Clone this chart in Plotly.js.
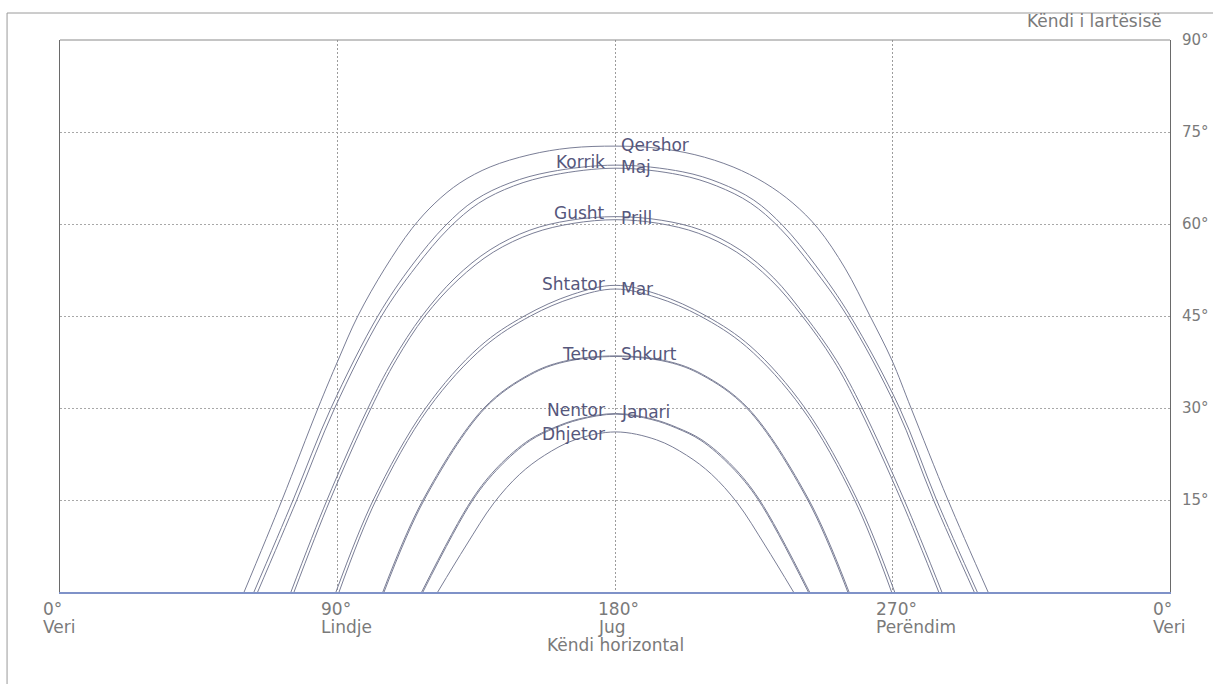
<!DOCTYPE html>
<html>
<head>
<meta charset="utf-8">
<script src="https://cdn.plot.ly/plotly-3.0.1.min.js"></script>
<style>
html,body{margin:0;padding:0;background:#fff;}
#chart{width:1213px;height:684px;}
</style>
</head>
<body>
<div id="chart"></div>
<script>
// Azimuth (°) and elevation (°) readings for each month's sun path
const months = ["Qershor","Korrik","Maj","Gusht","Prill","Shtator","Mar","Tetor","Shkurt","Nentor","Janari","Dhjetor"];

const azQershor = [59.7, 72.0, 83.7, 90.2, 96.6, 105.4, 114.2, 121.6, 129.7, 139.5, 152.4, 165.4, 180.3, 193.0, 205.9, 218.3, 228.6, 237.7, 245.8, 254.6, 262.7, 269.8, 276.0, 288.0, 301.0];
const elQershor = [0, 15, 30, 37.8, 45, 52.8, 59.3, 63.4, 66.7, 69.3, 71.3, 72.4, 72.7, 72.4, 71.3, 69.3, 66.7, 63.4, 59.3, 52.8, 45, 37.8, 30, 15, 0];

const azKorrik = [62.9, 75.6, 87.9, 103.1, 114.2, 124.9, 134.6, 145.9, 158.9, 180.3, 202.0, 214.0, 225.0, 234.5, 245.0, 256.3, 272.3, 284.3, 297.5];
const elKorrik = [0, 15, 30, 45, 53.3, 59.7, 63.9, 66.7, 68.5, 69.6, 68.5, 66.7, 63.9, 59.7, 53.3, 45, 30, 15, 0];

const azMaj = [64.1, 76.8, 89.1, 104.3, 115.4, 126.1, 135.8, 147.1, 160.1, 180.3, 201.0, 213.0, 224.0, 233.5, 244.0, 255.3, 271.3, 283.3, 296.5];
const elMaj = [0, 15, 30, 45, 53.0, 59.3, 63.4, 66.2, 68.0, 69.1, 68.0, 66.2, 63.4, 59.3, 53.0, 45, 30, 15, 0];

const azGusht = [74.9, 86.6, 99.9, 108.0, 117.4, 128.1, 139.5, 152.4, 165.4, 180.3, 195.2, 208.0, 220.5, 231.5, 241.7, 251.8, 260.2, 273.8, 286.0];
const elGusht = [0, 15, 30, 37.8, 45, 51.2, 55.8, 59.0, 60.6, 61.2, 60.6, 59.0, 55.8, 51.2, 45, 37.8, 30, 15, 0];

const azPrill = [75.9, 87.6, 100.9, 109.0, 118.4, 129.1, 140.5, 153.4, 166.4, 180.3, 194.2, 207.0, 219.5, 230.5, 240.7, 250.8, 259.2, 272.8, 285.0];
const elPrill = [0, 15, 30, 37.8, 45, 50.9, 55.4, 58.5, 60.1, 60.7, 60.1, 58.5, 55.4, 50.9, 45, 37.8, 30, 15, 0];

const azShtator = [89.5, 101.6, 118.6, 136.1, 150.6, 166.1, 180.1, 194.1, 209.6, 224.1, 241.6, 258.6, 270.7];
const elShtator = [0, 15, 30, 40, 45, 48.5, 50.0, 48.5, 45, 40, 30, 15, 0];

const azMar = [90.5, 102.5, 119.6, 137.6, 152.6, 166.6, 180.1, 193.6, 207.6, 222.6, 240.6, 257.7, 269.7];
const elMar = [0, 15, 30, 40, 45, 48.0, 49.4, 48.0, 45, 40, 30, 15, 0];

const azTetor = [104.7, 117.7, 137.5, 152.3, 163.3, 180.3, 197.3, 208.3, 223.1, 242.9, 255.9];
const elTetor = [0, 15, 30, 35.5, 37.6, 38.5, 37.6, 35.5, 30, 15, 0];

const azShkurt = [105.1, 118.1, 137.9, 152.5, 163.5, 180.3, 197.1, 208.1, 222.7, 242.5, 255.5];
const elShkurt = [0, 15, 30, 35.4, 37.5, 38.4, 37.5, 35.4, 30, 15, 0];

const azNentor = [117.3, 133.5, 142.2, 152.2, 160.2, 168.2, 180.2, 192.2, 200.2, 208.2, 218.2, 226.9, 243.1];
const elNentor = [0, 15, 20.5, 24.8, 26.8, 28.2, 29.1, 28.2, 26.8, 24.8, 20.5, 15, 0];

const azJanari = [117.7, 133.9, 142.6, 152.5, 160.4, 168.4, 180.2, 192.0, 200.0, 207.9, 217.8, 226.5, 242.7];
const elJanari = [0, 15, 20.4, 24.7, 26.7, 28.1, 29.0, 28.1, 26.7, 24.7, 20.4, 15, 0];

const azDhjetor = [122.5, 131.6, 140.7, 149.1, 157.2, 166.9, 180.2, 193.5, 203.2, 211.3, 219.7, 228.8, 237.9];
const elDhjetor = [0, 7.5, 14.5, 19.2, 22.3, 24.8, 26.1, 24.8, 22.3, 19.2, 14.5, 7.5, 0];

// Tick labels
const xTickVals = [0, 90, 180, 270, 360];
const xTickDeg = ["0°", "90°", "180°", "270°", "0°"];
const xTickDir = ["Veri", "Lindje", "Jug", "Perëndim", "Veri"];
const yTickVals = [15, 30, 45, 60, 75, 90];
const yTickText = ["15°", "30°", "45°", "60°", "75°", "90°"];

// Month label placement: which side of the noon line, and elevation of the label
const labelSide = {Qershor:"right", Korrik:"left", Maj:"right", Gusht:"left", Prill:"right", Shtator:"left", Mar:"right", Tetor:"left", Shkurt:"right", Nentor:"left", Janari:"right", Dhjetor:"left"};
const labelEl = {Qershor:72.9, Korrik:70.1, Maj:69.3, Gusht:61.8, Prill:61.0, Shtator:50.2, Mar:49.4, Tetor:38.8, Shkurt:38.8, Nentor:29.7, Janari:29.3, Dhjetor:25.8};

const series = {
  Qershor:[azQershor, elQershor], Korrik:[azKorrik, elKorrik], Maj:[azMaj, elMaj],
  Gusht:[azGusht, elGusht], Prill:[azPrill, elPrill], Shtator:[azShtator, elShtator],
  Mar:[azMar, elMar], Tetor:[azTetor, elTetor], Shkurt:[azShkurt, elShkurt],
  Nentor:[azNentor, elNentor], Janari:[azJanari, elJanari], Dhjetor:[azDhjetor, elDhjetor]
};

const lineColor = "#7a7e96";
const traces = months.map(m => ({
  type: "scatter", mode: "lines", name: m,
  x: series[m][0], y: series[m][1],
  line: {color: lineColor, width: 1, shape: "spline", smoothing: 1},
  hoverinfo: "x+y+name"
}));

const FONT = "DejaVu Sans, Verdana, sans-serif";
const GREY = "#7a7a7a";
const annotations = [];
months.forEach(m => {
  const right = labelSide[m] === "right";
  annotations.push({
    x: 180, y: labelEl[m], xref: "x", yref: "y",
    text: m, showarrow: false,
    xanchor: right ? "left" : "right", yanchor: "middle",
    xshift: right ? 4 : -8,
    font: {family: FONT, size: 17, color: "#56577c"}
  });
});
xTickVals.forEach((v, i) => {
  annotations.push({
    x: v, y: 0, xref: "x", yref: "paper",
    text: xTickDeg[i], showarrow: false,
    xanchor: "left", yanchor: "middle", xshift: -19, yshift: -17,
    font: {family: FONT, size: 17, color: GREY}
  });
  annotations.push({
    x: v, y: 0, xref: "x", yref: "paper",
    text: xTickDir[i], showarrow: false,
    xanchor: "left", yanchor: "middle", xshift: -19, yshift: -35,
    font: {family: FONT, size: 17, color: GREY}
  });
});
annotations.push({
  x: 180, y: 0, xref: "x", yref: "paper", text: "Këndi horizontal", showarrow: false,
  xanchor: "center", yanchor: "middle", yshift: -53,
  font: {family: FONT, size: 17, color: GREY}
});
annotations.push({
  x: 1, y: 1, xref: "paper", yref: "paper", text: "Këndi i lartësisë", showarrow: false,
  xanchor: "right", yanchor: "bottom", xshift: -6, yshift: 7,
  font: {family: FONT, size: 17, color: GREY}
});

const layout = {
  width: 1213, height: 684,
  margin: {l: 60, r: 43, t: 40, b: 92},
  paper_bgcolor: "#ffffff", plot_bgcolor: "#ffffff",
  showlegend: false,
  xaxis: {
    range: [0, 360], tickvals: xTickVals, showticklabels: false, ticks: "",
    showgrid: true, gridcolor: "#9c9c9c", gridwidth: 1, griddash: "2px,2px",
    zeroline: false, showline: true, linecolor: "#7f92c8", linewidth: 2, mirror: false
  },
  yaxis: {
    range: [0, 90], side: "right", tickvals: yTickVals, ticktext: yTickText, ticks: "",
    ticklabelstandoff: 8,
    tickfont: {family: FONT, size: 15, color: GREY},
    showgrid: true, gridcolor: "#a8a8a8", gridwidth: 1, griddash: "2px,2px",
    zeroline: false, showline: true, linecolor: "#6a6a6a", linewidth: 1, mirror: true
  },
  shapes: [
    {type: "line", xref: "paper", yref: "paper", x0: 0, x1: 1, y0: 1, y1: 1,
     line: {color: "#8a8a8a", width: 1}},
    {type: "rect", xref: "paper", yref: "paper", x0: -0.0477, x1: 1.06, y0: -0.2, y1: 1.0489,
     line: {color: "#9a9a9a", width: 1}}
  ],
  annotations: annotations
};

Plotly.newPlot("chart", traces, layout, {displayModeBar: false, staticPlot: true});
</script>
</body>
</html>
